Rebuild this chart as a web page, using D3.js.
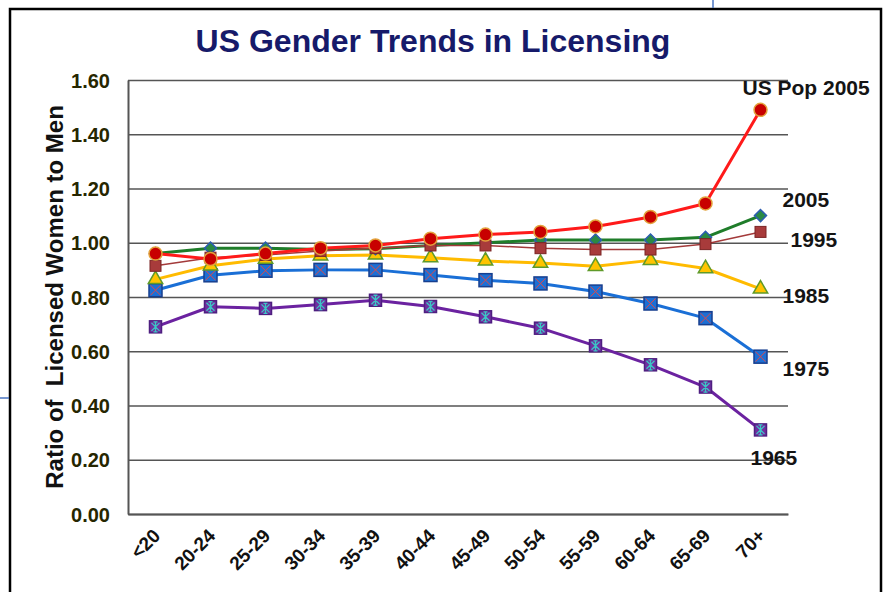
<!DOCTYPE html>
<html>
<head>
<meta charset="utf-8">
<script src="https://cdn.jsdelivr.net/npm/d3@7"></script>
<style>
  body { margin: 0; background: #fff; }
  svg { display: block; font-family: "Liberation Sans", Arial, sans-serif; }
</style>
</head>
<body>
<svg class="chart"></svg>
<script>
var ageGroups = ["<20", "20-24", "25-29", "30-34", "35-39", "40-44", "45-49", "50-54", "55-59", "60-64", "65-69", "70+"];
var yTicks = [0, 0.2, 0.4, 0.6, 0.8, 1.0, 1.2, 1.4, 1.6];

var usPop2005 = [0.96, 0.94, 0.96, 0.98, 0.99, 1.015, 1.03, 1.04, 1.06, 1.095, 1.145, 1.49];
var lic2005 = [0.96, 0.98, 0.98, 0.975, 0.978, 0.99, 1.00, 1.01, 1.01, 1.01, 1.02, 1.10];
var lic1995 = [0.915, 0.945, 0.955, 0.97, 0.98, 0.99, 0.99, 0.98, 0.975, 0.975, 0.995, 1.04];
var lic1985 = [0.865, 0.915, 0.94, 0.952, 0.955, 0.945, 0.933, 0.925, 0.913, 0.935, 0.905, 0.83];
var lic1975 = [0.825, 0.88, 0.897, 0.9, 0.9, 0.881, 0.862, 0.85, 0.82, 0.776, 0.722, 0.58];
var lic1965 = [0.69, 0.764, 0.758, 0.772, 0.788, 0.765, 0.727, 0.685, 0.62, 0.55, 0.468, 0.31];

var seriesNames = ["1965", "1975", "1985", "2005", "1995", "US Pop 2005"];
var seriesValues = [lic1965, lic1975, lic1985, lic2005, lic1995, usPop2005];

// look of each series (drawing order = seriesNames order)
var styles = {
  "1965": { line: "#6b22a0", width: 3, marker: "asterisk", fill: "#7030a0", stroke: "#4e1f80", label: [-10, 35] },
  "1975": { line: "#1a6fd6", width: 3, marker: "xsquare", fill: "#1d6fd4", stroke: "#173f8f", label: [22, 19] },
  "1985": { line: "#ffbb00", width: 3, marker: "triangle", fill: "#ffc400", stroke: "#5f9a2a", label: [22, 14] },
  "2005": { line: "#1f7d2a", width: 3, marker: "diamond", fill: "#2a8a45", stroke: "#2c5db0", label: [22, -9] },
  "1995": { line: "#a33a3a", width: 1.5, marker: "square", fill: "#a83b3b", stroke: "#7a2525", label: [30, 15] },
  "US Pop 2005": { line: "#ff1a1a", width: 3, marker: "circle", fill: "#c80000", stroke: "#e3a23c", label: [-18, -15] }
};

var margin = {top: 80, right: 100, bottom: 78, left: 128};
var chartWidth = 888 - margin.left - margin.right;
var chartHeight = 592 - margin.top - margin.bottom;

var svg = d3.select(".chart").attr("width", 888).attr("height", 592);

// outer frame and the stray blue lines
svg.append("rect").attr("x", 10).attr("y", 9).attr("width", 871).attr("height", 600)
   .attr("fill", "#fff").attr("stroke", "#000").attr("stroke-width", 2.5);
svg.append("line").attr("x1", 713).attr("x2", 713).attr("y1", 0).attr("y2", 8)
   .attr("stroke", "#4a74c0").attr("stroke-width", 1.5);
svg.append("line").attr("x1", 0).attr("x2", 9).attr("y1", 398).attr("y2", 398)
   .attr("stroke", "#4a74c0").attr("stroke-width", 1.5);

svg.append("text")
   .attr("x", 433).attr("y", 52)
   .attr("text-anchor", "middle")
   .style("font-size", "32px").style("font-weight", "bold")
   .attr("fill", "#161a6a")
   .text("US Gender Trends in Licensing");

var chart = svg.append("g").attr("transform", "translate(" + margin.left + "," + margin.top + ")");

var x = d3.scaleBand().domain(ageGroups).range([0, chartWidth]).padding(0);
var y = d3.scaleLinear().domain([0, 1.6]).range([chartHeight, 0]);
function cx(i) { return x(ageGroups[i]) + x.bandwidth() / 2; }

// y axis with gridlines
var yAxis = chart.append("g")
  .call(d3.axisLeft(y).tickValues(yTicks).tickFormat(d3.format(".2f"))
          .tickSize(-chartWidth).tickSizeOuter(0).tickPadding(18));
yAxis.selectAll(".tick line").attr("stroke", "#555").attr("stroke-width", 1.7);
yAxis.select(".domain").attr("stroke", "#555").attr("stroke-width", 2);
yAxis.selectAll("text")
     .style("font-size", "20px").style("font-weight", "bold")
     .attr("fill", "#262600").attr("dy", "0.36em");

// x axis
var xAxis = chart.append("g")
  .attr("transform", "translate(0," + chartHeight + ")")
  .call(d3.axisBottom(x).tickSize(0).tickSizeOuter(0).tickPadding(0));
xAxis.select(".domain").attr("stroke", "#555").attr("stroke-width", 2);
xAxis.selectAll("text")
     .style("font-size", "19px").style("font-weight", "bold")
     .attr("fill", "#111")
     .attr("text-anchor", "end")
     .attr("dy", null)
     .attr("transform", "translate(6,23) rotate(-45)");

// y axis title
svg.append("text")
   .attr("transform", "translate(63,297) rotate(-90)")
   .attr("text-anchor", "middle")
   .style("font-size", "24px").style("font-weight", "bold")
   .style("white-space", "pre")
   .attr("fill", "#111")
   .text("Ratio of  Licensed Women to Men");

var line = d3.line()
  .x(function(d, i) { return cx(i); })
  .y(function(d) { return y(d); });

function drawMarker(g, s, px, py) {
  var m = g.append("g").attr("transform", "translate(" + px + "," + py + ")");
  if (s.marker == "circle") {
    m.append("circle").attr("r", 6.5).attr("fill", s.fill).attr("stroke", s.stroke).attr("stroke-width", 1.5);
  } else if (s.marker == "diamond") {
    m.append("path").attr("d", d3.symbol().type(d3.symbolSquare).size(72)())
     .attr("transform", "rotate(45)")
     .attr("fill", s.fill).attr("stroke", s.stroke).attr("stroke-width", 1.5);
  } else if (s.marker == "triangle") {
    m.append("path").attr("d", d3.symbol().type(d3.symbolTriangle).size(90)())
     .attr("fill", s.fill).attr("stroke", s.stroke).attr("stroke-width", 1.5);
  } else if (s.marker == "square") {
    m.append("rect").attr("x", -5.5).attr("y", -5.5).attr("width", 11).attr("height", 11)
     .attr("fill", s.fill).attr("stroke", s.stroke).attr("stroke-width", 1);
  } else if (s.marker == "xsquare") {
    m.append("rect").attr("x", -6.5).attr("y", -6.5).attr("width", 13).attr("height", 13)
     .attr("fill", s.fill).attr("stroke", s.stroke).attr("stroke-width", 1.5);
    m.append("path").attr("d", "M-5,-5L5,5M5,-5L-5,5")
     .attr("stroke", "#e04848").attr("stroke-width", 1);
  } else if (s.marker == "asterisk") {
    m.append("rect").attr("x", -6).attr("y", -6).attr("width", 12).attr("height", 12)
     .attr("fill", s.fill).attr("stroke", s.stroke).attr("stroke-width", 1.5);
    m.append("path").attr("d", "M0,-5L0,5M-4,-4L4,4M4,-4L-4,4M-2,-5L2,-5M-2,5L2,5")
     .attr("stroke", "#3cc6c6").attr("stroke-width", 1.3);
  }
}

seriesNames.forEach(function(name, k) {
  var s = styles[name];
  var vals = seriesValues[k];
  var g = chart.append("g");
  g.append("path").datum(vals)
   .attr("d", line)
   .attr("fill", "none")
   .attr("stroke", s.line)
   .attr("stroke-width", s.width)
   .attr("stroke-linejoin", "round");
  vals.forEach(function(v, i) { drawMarker(g, s, cx(i), y(v)); });
});

// series labels at the right end
seriesNames.forEach(function(name, k) {
  var s = styles[name];
  var vals = seriesValues[k];
  var last = vals.length - 1;
  chart.append("text")
    .attr("x", cx(last) + s.label[0])
    .attr("y", y(vals[last]) + s.label[1])
    .style("font-size", "21px").style("font-weight", "bold")
    .attr("fill", "#141414")
    .text(name);
});
</script>
</body>
</html>
